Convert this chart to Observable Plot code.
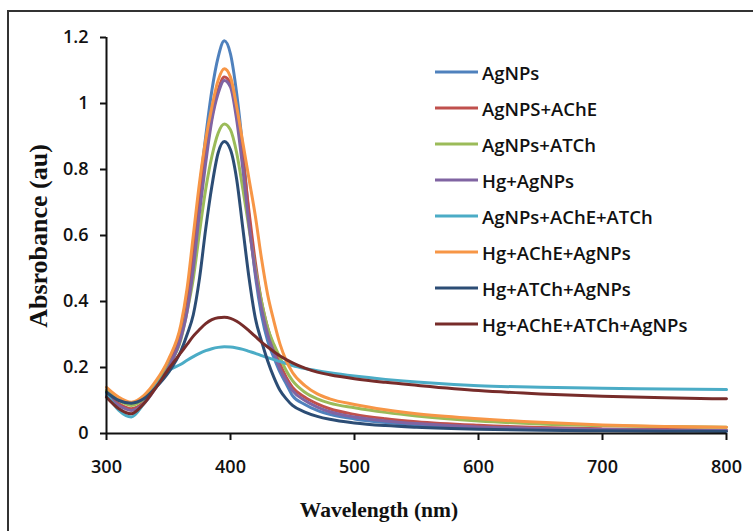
<!DOCTYPE html>
<html>
<head>
<meta charset="utf-8">
<script src="https://cdn.jsdelivr.net/npm/d3@7"></script>
<script src="https://cdn.jsdelivr.net/npm/@observablehq/plot@0.6"></script>
<style>
  body { margin: 0; background: #fff; }
  #wrap { position: relative; width: 753px; height: 531px; overflow: hidden; background: #fff; }
  #frame { position: absolute; left: 7px; top: 10px; width: 800px; height: 600px; border-left: 2px solid #333; border-top: 2px solid #333; }
  #chart { position: absolute; left: 0; top: 0; }
  .legrow { position: absolute; left: 435px; height: 30px; display: flex; align-items: center; font-family: "Open Sans", sans-serif; font-weight: 600; font-size: 18.5px; color: #111; white-space: nowrap; }
  .legrow svg { margin-right: 2px; }
  #ytitle { position: absolute; left: 39px; top: 236px; transform: translate(-50%, -50%) rotate(-90deg); font-family: "Liberation Serif", serif; font-weight: bold; font-size: 26px; white-space: nowrap; color: #111; }
  #xtitle { position: absolute; left: 379px; top: 510px; transform: translate(-50%, -50%); font-family: "Liberation Serif", serif; font-weight: bold; font-size: 21.5px; white-space: nowrap; color: #111; }
</style>
</head>
<body>
<div id="wrap">
  <div id="frame"></div>
  <div id="chart"></div>
  <div id="legend"></div>
  <div id="ytitle">Absrobance (au)</div>
  <div id="xtitle">Wavelength (nm)</div>
</div>
<script>
const wavelengths = [300,310,320,330,340,350,360,365,370,375,380,385,390,395,400,405,410,415,420,425,430,435,440,445,450,460,470,480,500,525,550,600,650,700,750,800];

const seriesNames = ["AgNPs","AgNPS+AChE","AgNPs+ATCh","Hg+AgNPs","AgNPs+AChE+ATCh","Hg+AChE+AgNPs","Hg+ATCh+AgNPs","Hg+AChE+ATCh+AgNPs"];
const seriesColors = ["#4F81BD","#C0504D","#9BBB59","#8064A2","#4BACC6","#F79646","#2C4D75","#772C2A"];

const agnps        = [.13,.10,.09,.11,.15,.21,.31,.41,.56,.74,.90,1.04,1.14,1.19,1.15,1.03,.86,.65,.48,.36,.28,.23,.185,.15,.115,.088,.07,.058,.044,.033,.026,.017,.013,.01,.009,.008];
const agnpsAche    = [.12,.09,.075,.095,.145,.205,.30,.39,.53,.70,.84,.96,1.04,1.08,1.06,.97,.83,.67,.52,.40,.32,.26,.21,.17,.14,.11,.09,.075,.058,.045,.036,.025,.018,.014,.012,.01];
const agnpsAtch    = [.13,.10,.085,.105,.15,.205,.285,.37,.47,.61,.74,.84,.91,.938,.92,.85,.74,.62,.50,.40,.32,.27,.23,.19,.16,.125,.105,.092,.078,.064,.053,.038,.029,.024,.021,.019];
const hgAgnps      = [.115,.085,.07,.09,.14,.20,.29,.37,.50,.67,.82,.95,1.03,1.07,1.05,.95,.80,.63,.49,.38,.30,.245,.195,.16,.13,.10,.08,.066,.05,.038,.03,.02,.015,.012,.01,.009];
const agnpsAcheAtch= [.12,.07,.05,.09,.145,.19,.21,.222,.233,.243,.251,.257,.261,.263,.262,.259,.255,.249,.243,.236,.23,.224,.218,.212,.206,.197,.19,.184,.174,.164,.156,.145,.14,.137,.135,.133];
const hgAcheAgnps  = [.14,.11,.095,.115,.16,.225,.33,.44,.60,.76,.89,.99,1.07,1.105,1.08,.99,.88,.77,.66,.53,.42,.34,.27,.22,.185,.145,.12,.105,.088,.072,.06,.045,.034,.026,.021,.019];
const hgAtchAgnps  = [.125,.10,.092,.105,.14,.185,.25,.30,.36,.47,.62,.75,.85,.885,.86,.77,.62,.47,.35,.28,.22,.17,.13,.105,.085,.065,.052,.043,.032,.024,.019,.013,.01,.008,.007,.006];
const hgAcheAtchAgnps = [.11,.075,.06,.09,.14,.195,.245,.27,.295,.315,.333,.345,.351,.352,.349,.34,.327,.311,.294,.277,.262,.248,.235,.224,.214,.198,.186,.178,.166,.155,.146,.13,.12,.113,.108,.105];

const seriesValues = [agnps, agnpsAche, agnpsAtch, hgAgnps, agnpsAcheAtch, hgAcheAgnps, hgAtchAgnps, hgAcheAtchAgnps];

const xTicks = [300,400,500,600,700,800];
const yTicks = [0,0.2,0.4,0.6,0.8,1,1.2];
const yTickLabels = ["0","0.2","0.4","0.6","0.8","1","1.2"];

const data = [];
seriesNames.forEach((name, i) => {
  wavelengths.forEach((wl, j) => data.push({series: name, wl, v: seriesValues[i][j]}));
});

const chart = Plot.plot({
  width: 753,
  height: 531,
  marginTop: 37,
  marginBottom: 98,
  marginLeft: 106,
  marginRight: 27,
  style: {fontFamily: "'Open Sans', sans-serif", fontSize: "18px", fontWeight: 600, background: "transparent", color: "#111"},
  x: {domain: [300, 800]},
  y: {domain: [0, 1.2]},
  color: {domain: seriesNames, range: seriesColors},
  marks: [
    Plot.line(data, {x: "wl", y: "v", z: "series", stroke: "series", strokeWidth: 3, curve: "monotone-x"}),
    Plot.ruleX([300], {stroke: "#111", strokeWidth: 2}),
    Plot.ruleY([0], {stroke: "#111", strokeWidth: 2}),
    Plot.axisX({ticks: xTicks, tickSize: 7, tickPadding: 20, strokeWidth: 2, label: null, tickFormat: d => String(d)}),
    Plot.axisY({ticks: yTicks, tickSize: 6, tickPadding: 12, strokeWidth: 2, label: null, tickFormat: d => yTickLabels[yTicks.indexOf(d)]})
  ]
});
document.getElementById("chart").appendChild(chart);

const legend = document.getElementById("legend");
seriesNames.forEach((name, i) => {
  const row = document.createElement("div");
  row.className = "legrow";
  row.style.top = (72 + 36 * i - 15) + "px";
  row.innerHTML = `<svg width="45" height="6"><line x1="0" y1="3" x2="43" y2="3" stroke="${seriesColors[i]}" stroke-width="3"/></svg><span>${name}</span>`;
  legend.appendChild(row);
});
</script>
</body>
</html>
